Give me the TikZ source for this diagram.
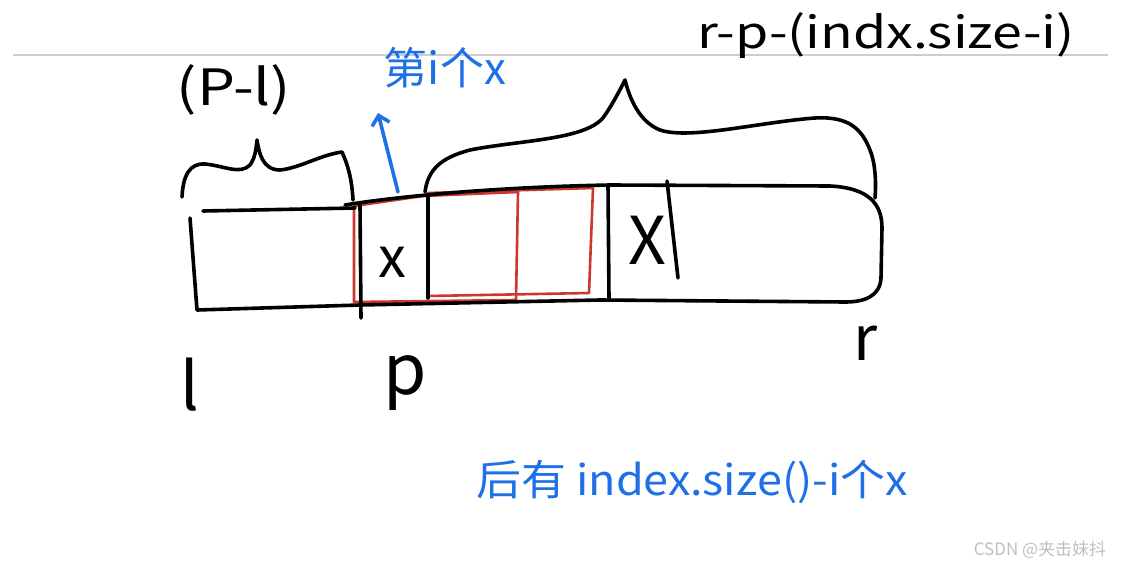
\documentclass[tikz,border=0pt]{standalone}
\usepackage{fontspec}
\setmainfont{Noto Sans CJK SC}
\usetikzlibrary{arrows.meta}
\definecolor{inkblue}{RGB}{30,112,232}
\definecolor{inkred}{RGB}{205,55,45}
\definecolor{rule}{RGB}{205,205,205}
\tikzset{
  ink/.style={line width=3.6pt, line cap=round, line join=round, black},
  redink/.style={line width=2.6pt, line cap=round, line join=round, inkred},
  blueink/.style={line width=3.6pt, line cap=round, line join=round, inkblue},
  lab/.style={inner sep=0pt, anchor=center},
}
\begin{document}
\begin{tikzpicture}[x=1pt,y=-1pt]
\useasboundingbox[fill=white] (0,0) rectangle (1144,570);
% faint ruled line
\draw[rule, line width=1.2pt] (13,55) -- (1108,55);

% red windows
\draw[redink] (354,206) -- (423,196) -- (518,192) -- (516,300) -- (354,302) -- cycle;
\draw[redink] (428,193) -- (593,188) -- (589,293) -- (428,296);

% array outline
\draw[ink] (203,211) -- (355,208);
\draw[ink] (345,205) .. controls (400,196) and (500,187) .. (610,185)
  -- (830,186) .. controls (870,188) and (882,205) .. (882,228)
  -- (881,278) .. controls (880,296) and (865,302) .. (845,302)
  -- (600,300) -- (360,305) -- (197,310) -- (190,218);
% dividers
\draw[ink] (360,205) -- (361,318);
\draw[ink] (428,195) -- (428,298);
\draw[ink] (608,185) -- (609,298);
\draw[ink] (667,181) -- (678,278);

% braces
\draw[ink] (182,197) .. controls (183,175) and (190,163) .. (205,164)
  .. controls (225,166) and (240,175) .. (250,165)
  .. controls (255,158) and (256,150) .. (257,140)
  .. controls (259,152) and (262,170) .. (280,170)
  .. controls (300,168) and (320,155) .. (342,152)
  .. controls (348,165) and (352,180) .. (353,200);
\draw[ink] (425,192) .. controls (428,170) and (440,158) .. (470,150)
  .. controls (520,140) and (590,140) .. (605,115)
  .. controls (612,105) and (620,90) .. (625,80)
  .. controls (630,100) and (640,122) .. (660,130)
  .. controls (690,140) and (760,122) .. (815,118)
  .. controls (850,116) and (862,130) .. (870,150)
  .. controls (876,165) and (876,185) .. (875,198);

% blue arrow
\coordinate (arrS) at (398,192);
\coordinate (arrE) at (378,113);
\draw[blueink, -{Straight Barb[length=9pt,width=18pt]}] (arrS) -- (arrE);

% texts
\node[lab, xscale=1.2] (pl) at (234,90) {\fontsize{50}{52}\selectfont (P-l)};
\node[lab, text=inkblue] (ith) at (445,68) {\fontsize{44}{46}\selectfont 第i个x};
\node[lab, xscale=1.22] (rest) at (886,36) {\fontsize{44}{46}\selectfont r-p-(indx.size-i)};
\node[lab] (x1) at (392,262) {\fontsize{56}{58}\selectfont x};
\node[lab] (x2) at (647,240) {\fontsize{66}{68}\selectfont X};
\node[lab] (L) at (190,385) {\fontsize{66}{68}\selectfont l};
\node[lab] (P) at (405,383) {\fontsize{70}{72}\selectfont p};
\node[lab] (R) at (866,343) {\fontsize{62}{64}\selectfont r};
\node[lab, text=inkblue, xscale=1.07] (after) at (692,482) {\fontsize{42}{44}\selectfont 后有\ index.size()-i个x};
\node[lab, text=black!25] (wm) at (1040,550) {\fontsize{17}{19}\selectfont CSDN @夹击妹抖};
\end{tikzpicture}
\end{document}
